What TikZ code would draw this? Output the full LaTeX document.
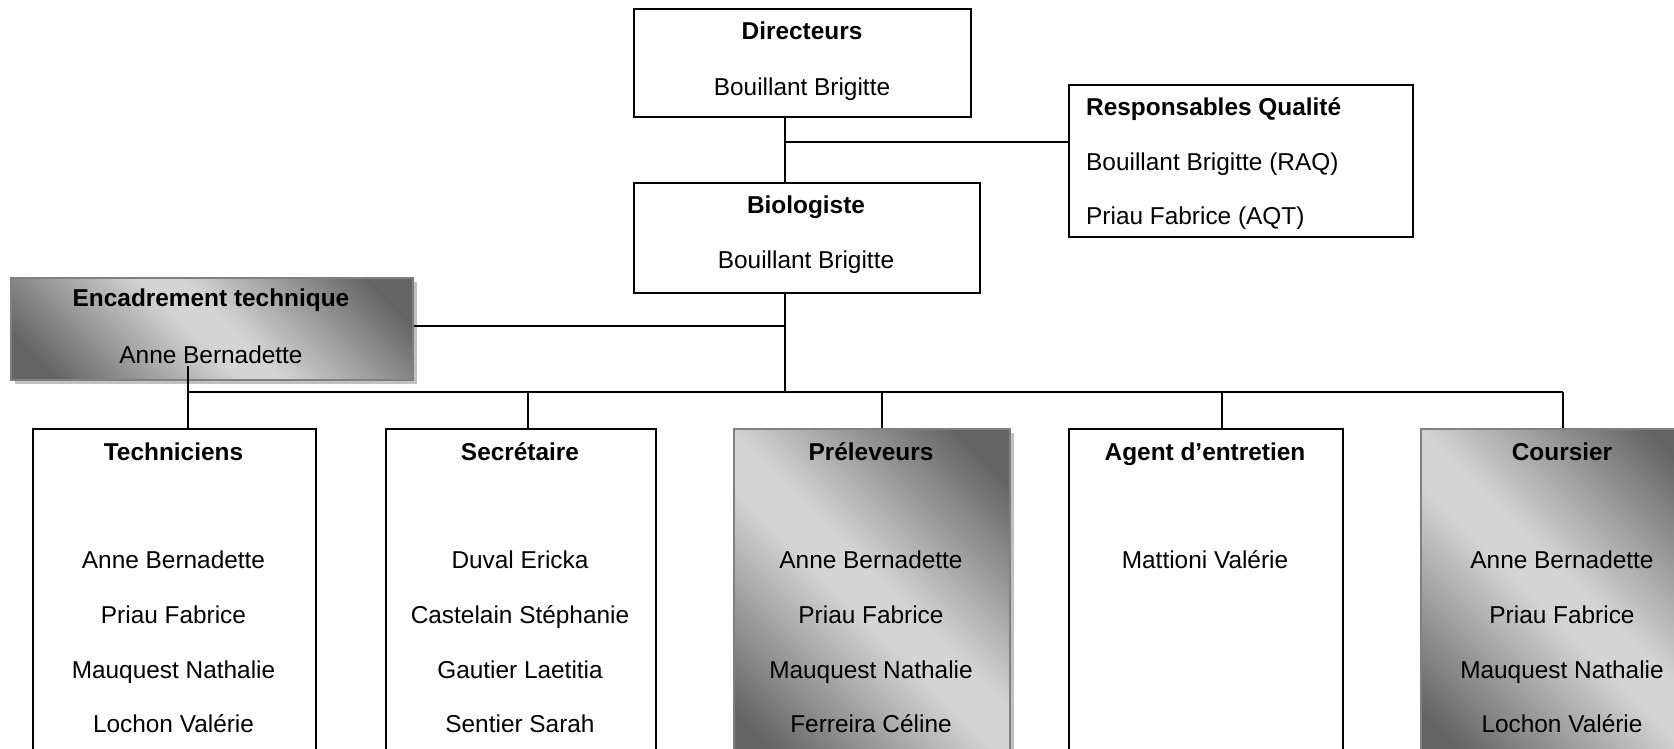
\documentclass[tikz,border=0pt]{standalone}
\usepackage{fontspec}
\setmainfont{Liberation Sans}
\usetikzlibrary{shadows}
\definecolor{darkg}{RGB}{100,100,100}
\definecolor{lightg}{RGB}{212,212,212}
\definecolor{bordg}{RGB}{128,128,128}
\definecolor{shadg}{RGB}{192,192,192}
\pgfdeclareverticalshading{diagsh}{100bp}{color(0bp)=(darkg); color(21bp)=(darkg); color(47bp)=(lightg); color(53bp)=(lightg); color(79bp)=(darkg); color(100bp)=(darkg)}
\begin{document}
\begin{tikzpicture}[x=1pt,y=-1pt,
  wbox/.style={draw=black, line width=1.6pt, fill=white, rectangle, inner sep=0pt, anchor=north west},
  sbox/.style={draw=bordg, line width=2pt, shading=diagsh, shading angle=-45, rectangle, inner sep=0pt, anchor=north west,
    drop shadow={shadow xshift=4pt, shadow yshift=-4pt, fill=shadg, opacity=1}},
  txt/.style={font=\fontsize{24.4}{29}\selectfont, inner sep=0pt, anchor=base},
  ttl/.style={txt, font=\fontsize{24.4}{29}\selectfont\bfseries},
  conn/.style={draw=black, line width=1.6pt}]
\useasboundingbox (0,0) rectangle (1674,748);
\clip (0,0) rectangle (1674,748);
\fill[white] (0,0) rectangle (1674,748);
% boxes
\node[wbox, minimum width=337, minimum height=108] (dir) at (633,8) {};
\node[wbox, minimum width=344, minimum height=152] (rq) at (1068,84) {};
\node[wbox, minimum width=346, minimum height=110] (bio) at (633,182) {};
\node[sbox, minimum width=402, minimum height=102] (enc) at (10,277) {};
\node[wbox, minimum width=283, minimum height=340] (tech) at (32,428) {};
\node[wbox, minimum width=270, minimum height=340] (sec) at (385,428) {};
\node[sbox, minimum width=276, minimum height=340] (prel) at (733,428) {};
\node[wbox, minimum width=274, minimum height=340] (agent) at (1068,428) {};
\node[sbox, minimum width=284, minimum height=340] (cour) at (1420,428) {};
% junctions
\coordinate (qj) at (785,142);
\coordinate (ej) at (785,326);
\coordinate (bus) at (785,392);
\coordinate (ab) at (188,366);
\coordinate (dT) at (188,392);
\coordinate (dS) at (528,392);
\coordinate (dP) at (882,392);
\coordinate (dA) at (1222,392);
\coordinate (dC) at (1563,392);
% connectors
\draw[conn] (dir.south -| qj) -- (bio.north -| qj);
\draw[conn] (qj) -- (qj -| rq.west);
\draw[conn] (bio.south -| bus) -- (bus);
\draw[conn] (ej -| enc.east) -- (ej);
\draw[conn] (ab) -- (dT);
\draw[conn] (dT) -- (dC);
\foreach \c/\b in {dT/tech, dS/sec, dP/prel, dA/agent, dC/cour}
  \draw[conn] (\c) -- (\c |- \b.north);
% texts
\node[ttl] (dirT) at (802,39) {Directeurs};
\node[txt] (dirN) at (802,95) {Bouillant Brigitte};
\node[ttl] (bioT) at (806,213) {Biologiste};
\node[txt] (bioN) at (806,268) {Bouillant Brigitte};
\node[ttl, anchor=base west] (rqT) at (1086,115) {Responsables Qualité};
\node[txt, anchor=base west] (rqA) at (1086,170) {Bouillant Brigitte (RAQ)};
\node[txt, anchor=base west] (rqB) at (1086,224) {Priau Fabrice (AQT)};
\node[ttl] (encT) at (211,306) {Encadrement technique};
\node[txt] (encN) at (211,363) {Anne Bernadette};
% bottom row
\node[ttl] (techT) at (173.5,460) {Techniciens};
\node[txt] (tech1) at (173.5,568) {Anne Bernadette};
\node[txt] (tech2) at (173.5,623) {Priau Fabrice};
\node[txt] (tech3) at (173.5,678) {Mauquest Nathalie};
\node[txt] (tech4) at (173.5,732) {Lochon Valérie};
\node[ttl] (secT) at (520,460) {Secrétaire};
\node[txt] (sec1) at (520,568) {Duval Ericka};
\node[txt] (sec2) at (520,623) {Castelain Stéphanie};
\node[txt] (sec3) at (520,678) {Gautier Laetitia};
\node[txt] (sec4) at (520,732) {Sentier Sarah};
\node[ttl] (prelT) at (871,460) {Préleveurs};
\node[txt] (prel1) at (871,568) {Anne Bernadette};
\node[txt] (prel2) at (871,623) {Priau Fabrice};
\node[txt] (prel3) at (871,678) {Mauquest Nathalie};
\node[txt] (prel4) at (871,732) {Ferreira Céline};
\node[ttl] (agentT) at (1205,460) {Agent d’entretien};
\node[txt] (agent1) at (1205,568) {Mattioni Valérie};
\node[ttl] (courT) at (1562,460) {Coursier};
\node[txt] (cour1) at (1562,568) {Anne Bernadette};
\node[txt] (cour2) at (1562,623) {Priau Fabrice};
\node[txt] (cour3) at (1562,678) {Mauquest Nathalie};
\node[txt] (cour4) at (1562,732) {Lochon Valérie};
\end{tikzpicture}
\end{document}
